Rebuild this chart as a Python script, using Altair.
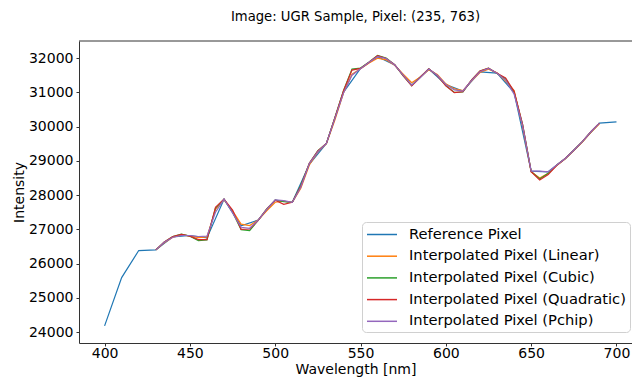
import altair as alt
import pandas as pd

# ---- data ----
ref_wl = [400, 410, 420, 430, 440, 450, 460, 470, 480, 490, 500, 510, 520, 530, 540, 550,
          560, 570, 580, 590, 600, 610, 620, 630, 640, 650, 660, 670, 680, 690, 700]
ref_val = [24180, 25590, 26380, 26400, 26780, 26820, 26750, 27880, 27100, 27270, 27850, 27790,
           28900, 29510, 31000, 31700, 32040, 31800, 31210, 31680, 31230, 31040, 31600, 31560,
           31000, 28700, 28680, 29070, 29560, 30100, 30140]

interp_wl = [430, 435, 440, 445, 450, 455, 460, 465, 470, 475, 480, 485, 490, 495, 500, 505,
             510, 515, 520, 525, 530, 535, 540, 545, 550, 555, 560, 565, 570, 575, 580, 585,
             590, 595, 600, 605, 610, 615, 620, 625, 630, 635, 640, 645, 650, 655, 660, 665,
             670, 675, 680, 685, 690]

linear_val = [26400, 26610, 26770, 26830, 26810, 26760, 26780, 27580, 27860, 27540, 27150, 27110,
              27270, 27540, 27790, 27820, 27790, 28200, 28880, 29260, 29500, 30200, 30980, 31530,
              31690, 31860, 32000, 31950, 31790, 31530, 31280, 31450, 31660, 31520, 31250, 31100,
              31050, 31330, 31580, 31680, 31570, 31330, 31050, 30000, 28680, 28500, 28640, 28860,
              29060, 29300, 29550, 29830, 30080]

cubic_val = [26400, 26630, 26790, 26860, 26800, 26670, 26690, 27620, 27880, 27500, 26990, 26960,
             27260, 27600, 27850, 27810, 27790, 28280, 28930, 29300, 29510, 30270, 31050, 31680,
             31710, 31890, 32080, 32000, 31810, 31480, 31200, 31440, 31690, 31490, 31200, 31000,
             31010, 31360, 31620, 31710, 31550, 31400, 31000, 30060, 28690, 28470, 28640, 28880,
             29070, 29310, 29560, 29850, 30100]

quadratic_val = [26400, 26630, 26790, 26850, 26800, 26700, 26700, 27640, 27880, 27560, 27000, 27010,
                 27260, 27590, 27850, 27730, 27790, 28260, 28930, 29290, 29510, 30260, 31040, 31650,
                 31700, 31880, 32070, 31990, 31810, 31490, 31190, 31440, 31690, 31490, 31190, 30990,
                 31020, 31360, 31620, 31710, 31560, 31420, 31030, 30060, 28680, 28440, 28600, 28870,
                 29070, 29310, 29560, 29850, 30100]

pchip_val = [26400, 26620, 26770, 26820, 26820, 26790, 26800, 27500, 27880, 27480, 27060, 27030,
             27270, 27580, 27860, 27840, 27790, 28230, 28920, 29270, 29510, 30240, 30980, 31500,
             31690, 31880, 32040, 31990, 31800, 31500, 31210, 31430, 31680, 31500, 31230, 31070,
             31040, 31340, 31600, 31700, 31560, 31360, 30950, 30020, 28700, 28700, 28680, 28880,
             29070, 29310, 29560, 29850, 30100]

series_names = ["Reference Pixel", "Interpolated Pixel (Linear)", "Interpolated Pixel (Cubic)",
                "Interpolated Pixel (Quadratic)", "Interpolated Pixel (Pchip)"]
series_colors = ["#1f77b4", "#ff7f0e", "#2ca02c", "#d62728", "#9467bd"]

x_ticks = [400, 450, 500, 550, 600, 650, 700]
y_ticks = [24000, 25000, 26000, 27000, 28000, 29000, 30000, 31000, 32000]

# ---- build tables ----
tables = [
    pd.DataFrame({"wl": ref_wl, "val": ref_val, "series": series_names[0]}),
    pd.DataFrame({"wl": interp_wl, "val": linear_val, "series": series_names[1]}),
    pd.DataFrame({"wl": interp_wl, "val": cubic_val, "series": series_names[2]}),
    pd.DataFrame({"wl": interp_wl, "val": quadratic_val, "series": series_names[3]}),
    pd.DataFrame({"wl": interp_wl, "val": pchip_val, "series": series_names[4]}),
]

FONT = "DejaVu Sans"
PLOT_W = 553
PLOT_H = 302
FRAME = "#333333"

x_enc = alt.X("wl:Q", title="Wavelength [nm]",
              scale=alt.Scale(domain=[385, 709.1], nice=False, zero=False),
              axis=alt.Axis(values=x_ticks, format="d", titlePadding=2, labelPadding=0))
y_enc = alt.Y("val:Q", title="Intensity",
              scale=alt.Scale(domain=[23680, 32500], nice=False, zero=False),
              axis=alt.Axis(values=y_ticks, format="d", titlePadding=2, labelPadding=3))
color_enc = alt.Color(
    "series:N",
    scale=alt.Scale(domain=series_names, range=series_colors),
    legend=alt.Legend(
        title=None, orient="none", legendX=283, legendY=181,
        fillColor="white", strokeColor="#d0d0d0", cornerRadius=4, padding=4,
        labelFont=FONT, labelFontSize=14.7, labelColor="#000000", labelLimit=400,
        symbolType="M-1,0H3", symbolSize=225, symbolStrokeWidth=1.5,
        labelOffset=26, rowPadding=5.7,
    ),
)

layers = [
    alt.Chart(t).mark_line(strokeWidth=1.2, clip=True).encode(x=x_enc, y=y_enc, color=color_enc)
    for t in tables
]

top_frame = alt.Chart(pd.DataFrame({"k": [0]})).mark_rule(color=FRAME, strokeWidth=1).encode(
    x=alt.value(0), x2=alt.value(PLOT_W), y=alt.value(0)
)

chart = alt.layer(*layers, top_frame).properties(
    width=PLOT_W, height=PLOT_H,
    title=alt.TitleParams("Image: UGR Sample, Pixel: (235, 763)", font=FONT, fontSize=13.2,
                          fontWeight="normal", color="#000000", anchor="middle", offset=16),
    autosize=alt.AutoSizeParams(type="none"),
    padding={"left": 79, "top": 41, "right": 0, "bottom": 34},
).configure_view(
    stroke=None
).configure_axis(
    grid=False, domain=True, domainColor=FRAME, domainWidth=1,
    ticks=True, tickColor=FRAME, tickSize=3, tickWidth=1,
    labelFont=FONT, labelFontSize=14, labelColor="#000000",
    titleFont=FONT, titleFontSize=14, titleFontWeight="normal", titleColor="#000000",
)

chart.save("out.html", embed_options={"renderer": "svg", "actions": False})
